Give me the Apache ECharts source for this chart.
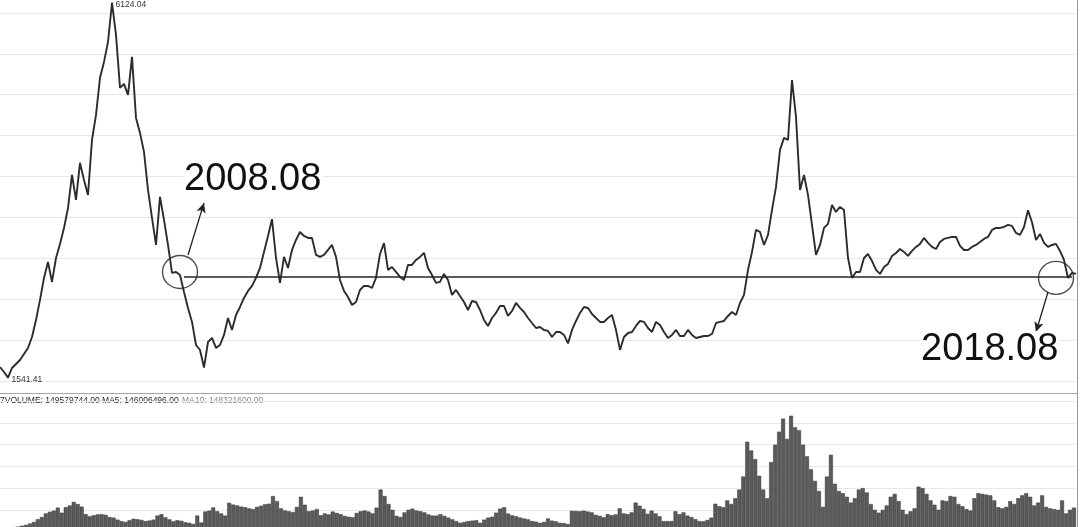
<!DOCTYPE html>
<html><head><meta charset="utf-8">
<script src="https://cdn.jsdelivr.net/npm/echarts/dist/echarts.min.js"></script>
<style>html,body{margin:0;padding:0;background:#fff}#c{width:1080px;height:527px}</style>
</head><body><div id="c"></div>
<script>
// Price index, roughly semi-monthly steps, Aug 2006 - Sep 2018
const priceValues = [
 1671,1610,1541.41,1659,1708,1757,1830,1904,2038,2246,2491,2760,2955,2711,3004,3176,3371,3616,4019,3714,
 4166,3958,3775,4447,4753,5206,5401,5646,6124.04,5732,5083,5132,4998,5463,4716,4533,4301,3836,3493,3163,
 3750,3469,3163,2821,2833,2796,2588,2393,2222,1940,1879,1664,1977,2026,1904,1940,2063,2270,2124,2307,
 2405,2515,2601,2662,2760,2882,3078,3273,3478,3004,2699,3017,2882,3102,3224,3322,3273,3249,3249,3041,
 3017,3041,3102,3163,3017,2735,2601,2527,2429,2466,2613,2662,2662,2637,2760,3053,3186,2858,2894,2833,
 2772,2735,2919,2919,2980,3017,3067,2882,2796,2699,2711,2809,2735,2552,2613,2540,2466,2368,2478,2466,
 2368,2246,2173,2270,2332,2417,2417,2295,2356,2454,2393,2344,2270,2209,2148,2160,2124,2112,2038,2099,
 2099,2063,1960,2124,2234,2332,2405,2393,2319,2270,2222,2222,2270,2307,2124,1880,2038,2087,2099,2173,
 2234,2222,2148,2099,2222,2185,2099,2026,2063,2124,2050,2050,2124,2063,2026,2038,2050,2050,2075,2209,
 2222,2234,2295,2344,2307,2454,2552,2858,3078,3347,3322,3163,3286,3591,3873,4325,4472,4447,5178,4729,
 3836,4019,3775,3408,3041,3163,3371,3420,3652,3567,3628,3591,3004,2760,2833,2833,3004,3053,2968,2858,
 2809,2894,2931,3029,3065,3114,3078,3029,3090,3139,3176,3249,3188,3139,3114,3200,3237,3249,3261,3261,
 3151,3102,3102,3139,3163,3200,3237,3261,3347,3371,3371,3383,3408,3396,3310,3286,3383,3587,3440,3224,
 3298,3188,3139,3163,3176,3090,2980,2760,2821,2809
];
// Volume, millions
const volumeValues = [
 24,22,26,30,34,40,46,55,66,85,100,125,136,144,165,130,168,180,205,190,
 172,120,105,112,118,120,115,100,96,82,72,66,78,88,85,80,72,76,82,110,
 120,98,84,70,78,74,64,60,52,110,62,138,144,166,140,125,110,198,186,180,
 172,168,160,155,170,178,188,192,245,210,160,145,140,134,170,240,185,140,145,155,
 112,125,118,138,128,120,108,102,98,128,140,145,138,125,165,290,245,190,150,108,
 100,132,150,158,145,140,132,118,110,110,120,108,96,84,72,60,66,72,75,78,
 60,82,96,102,130,158,168,124,112,105,96,90,84,72,68,60,66,90,75,70,
 60,58,52,143,142,140,144,138,132,115,108,98,120,112,118,160,125,120,132,200,
 178,156,122,144,125,105,72,72,72,140,120,132,110,100,85,72,70,80,96,192,
 175,168,215,190,230,290,380,620,560,500,385,290,230,480,600,690,780,640,800,720,
 700,600,520,430,350,280,170,380,530,330,280,265,240,200,230,290,300,270,190,150,
 130,150,180,240,260,210,150,120,140,160,310,300,260,215,185,150,215,210,245,240,
 190,175,155,145,230,265,260,255,250,215,168,160,170,210,190,230,250,265,240,180,
 200,250,170,160,155,150,215,125,150,165
];
const categories = priceValues.map((_, i) => {
  const d = new Date(2006, 7, 1 + Math.round(i * 16.3));
  return d.getFullYear() + '-' + String(d.getMonth() + 1).padStart(2, '0') + '-' + String(d.getDate()).padStart(2, '0');
});
const priceAxis = { min: 1500, max: 6500, interval: 500 };
const volumeAxis = { min: 0, max: 900, interval: 150 };
const levelValue = 2772;              // horizontal reference level
const levelRange = [46, 268];         // category index range of the level line
const circlePoints = [[44.75, 2833], [264.25, 2760]];
const arrowSegments = [
  [[46.5, 3041], [50.75, 3677]],
  [[262, 2588], [259, 2099]]
];
const volumeTitle = ['7VOLUME: 149579744.00 MA5: 146006496.00', 'MA10: 148321600.00'];
const annotationTexts = [
  { text: '2008.08', left: 183, cy: 179.5 },
  { text: '2018.08', left: 920, cy: 350 }
];

const FONT = '"Liberation Sans", Arial, Helvetica, sans-serif';
const chart = echarts.init(document.getElementById('c'));

const markLineData = [
  [{ coord: [levelRange[0], levelValue] }, { coord: [levelRange[1], levelValue] }]
].concat(arrowSegments.map(s => [
  { coord: s[0], symbol: 'none', lineStyle: { width: 1.3, color: '#222' } },
  { coord: s[1], symbol: 'arrow', symbolSize: [7, 10] }
]));

chart.setOption({
  animation: false,
  backgroundColor: '#ffffff',
  grid: [
    { left: 0, top: -28, width: 1076, height: 409, outerBoundsMode: 'none', containLabel: false },
    { left: 0, top: 401.3, width: 1076, height: 130.2, outerBoundsMode: 'none', containLabel: false }
  ],
  xAxis: [
    { type: 'category', gridIndex: 0, data: categories, boundaryGap: false,
      axisLine: { show: false }, axisTick: { show: false }, axisLabel: { show: false }, splitLine: { show: false } },
    { type: 'category', gridIndex: 1, data: categories, boundaryGap: true,
      axisLine: { show: false }, axisTick: { show: false }, axisLabel: { show: false }, splitLine: { show: false } }
  ],
  yAxis: [
    { type: 'value', gridIndex: 0, min: priceAxis.min, max: priceAxis.max, interval: priceAxis.interval,
      axisLine: { show: false }, axisTick: { show: false }, axisLabel: { show: false },
      splitLine: { show: true, lineStyle: { color: '#e8e8e8', width: 1 } } },
    { type: 'value', gridIndex: 1, min: volumeAxis.min, max: volumeAxis.max, interval: volumeAxis.interval,
      axisLine: { show: false }, axisTick: { show: false }, axisLabel: { show: false },
      splitLine: { show: true, lineStyle: { color: '#e8e8e8', width: 1 } } }
  ],
  series: [
    {
      type: 'line', xAxisIndex: 0, yAxisIndex: 0, data: priceValues,
      symbol: 'none', lineStyle: { color: '#2c2c2c', width: 1.9 },
      markPoint: {
        symbol: 'circle', symbolSize: 1, itemStyle: { color: '#333' },
        label: { show: true, position: 'right', distance: 3, color: '#333', fontSize: 8.5, fontFamily: FONT,
          formatter: p => Number(p.value).toFixed(2) },
        data: [{ type: 'max', label: { offset: [0, 2] } }, { type: 'min', label: { offset: [0, 2] } }]
      },
      markLine: {
        silent: true, animation: false, symbol: ['none', 'none'],
        lineStyle: { color: '#262626', width: 1.7, type: 'solid' },
        label: { show: false },
        emphasis: { disabled: true },
        data: markLineData
      }
    },
    {
      type: 'scatter', xAxisIndex: 0, yAxisIndex: 0, data: circlePoints,
      symbol: 'circle', symbolSize: [35, 33], silent: true,
      itemStyle: { color: 'rgba(0,0,0,0)', borderColor: '#222', borderWidth: 1.4 }
    },
    {
      type: 'bar', xAxisIndex: 1, yAxisIndex: 1, data: volumeValues,
      barCategoryGap: '0%',
      itemStyle: { color: '#5a5a5a', borderColor: '#3a3a3a', borderWidth: 0.5 }
    }
  ],
  graphic: [
    { type: 'line', silent: true, shape: { x1: 0, y1: 393.5, x2: 1078, y2: 393.5 }, style: { stroke: '#a8a8a8', lineWidth: 1 } },
    { type: 'rect', silent: true, shape: { x: 0, y: 394, width: 270, height: 11 }, style: { fill: '#ffffff' } },
    { type: 'text', left: 0, top: 395, silent: true,
      style: { text: '{a|' + volumeTitle[0] + '} {b|' + volumeTitle[1] + '}',
        rich: { a: { fontSize: 8.5, fontFamily: FONT, fill: '#2a2a2a' }, b: { fontSize: 8.5, fontFamily: FONT, fill: '#8a8a8a' } } } },
    { type: 'line', silent: true, shape: { x1: 1077.5, y1: 0, x2: 1077.5, y2: 527 }, style: { stroke: '#9a9a9a', lineWidth: 1 } }
  ].concat(annotationTexts.map(t => ({
    type: 'text', x: t.left, y: t.cy, silent: true, z: 10,
    style: { text: t.text, fontSize: 38, fontFamily: FONT, fill: '#111', verticalAlign: 'middle', align: 'left',
      backgroundColor: '#ffffff', padding: [0, 1, 0, 1] }
  })))
});
</script></body></html>
